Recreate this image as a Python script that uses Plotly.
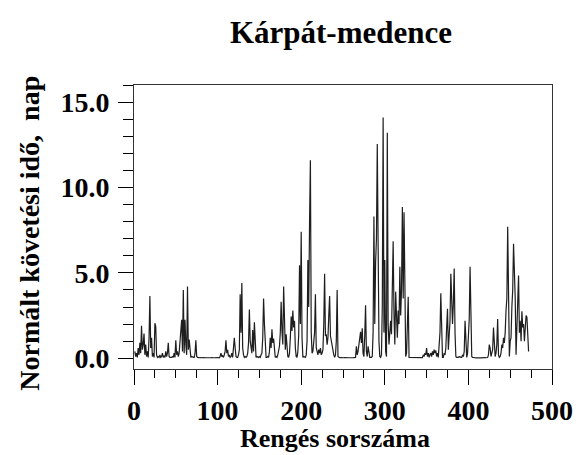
import plotly.graph_objects as go

# Normált követési idő (nap) for each earthquake index 1..472
seg1 = [0.4, 0.1, 0.3, 0.05, 0.6, 0.2, 0.9, 0.3, 1.9, 0.5, 0.8, 1.45, 0.2, 0.8, 0.1, 0.4, 0.05, 1.2, 3.65, 0.6,
        1.2, 0.1, 0.3, 0.05, 2.05, 1.85, 0.2, 0.05, 0.1, 0.05]
seg2 = [0.2, 0.05, 0.1, 0.3, 0.05, 0.15, 0.05, 0.4, 0.1, 0.3, 0.9, 0.1, 0.05, 0.05, 0.05, 0.1, 0.05, 0.3, 0.05, 1.05,
        0.2, 0.4, 0.1, 0.3, 1.0, 1.65, 2.25, 0.4, 4.0, 0.3, 2.25, 0.8, 0.2, 4.2, 0.5, 1.1, 0.2, 0.05, 0.1, 0.05,
        0.05, 0.05, 0.3, 1.05, 0.1]
seg3 = [0.05, 0.03, 0.03, 0.04, 0.02, 0.03, 0.04, 0.03, 0.02, 0.03, 0.04, 0.03, 0.03, 0.02, 0.04, 0.03, 0.03,
        0.04, 0.02, 0.03, 0.03, 0.04, 0.03, 0.02, 0.03, 0.04, 0.03]
seg4 = [0.1, 0.3, 0.1, 0.15, 0.05, 0.2, 0.4, 1.05, 0.3, 0.5, 0.1, 0.2, 0.05, 0.1, 0.3, 0.05, 0.5, 1.2, 0.6, 0.1,
        0.05, 0.05, 0.2, 0.5, 3.75, 1.5, 4.4, 0.6]
seg5 = [0.2, 0.05, 0.1, 0.05, 0.1, 0.3, 0.9, 2.85, 1.0, 0.7, 0.3, 1.65, 0.4, 2.1, 0.3, 0.05, 0.1, 0.05, 0.05, 0.1,
        0.05, 0.2, 0.3, 1.2, 3.5, 2.0, 0.3, 0.05, 0.05, 0.1]
seg6 = [0.05, 0.4, 1.2, 0.6, 1.7, 0.9, 1.15, 0.3, 0.05, 0.1, 0.05, 0.2, 0.4, 0.7, 1.5, 3.3, 1.6, 0.8, 4.2, 1.3,
        0.5, 1.4, 0.3, 0.1, 0.05, 0.3, 1.2, 2.45, 1.6, 2.8, 1.8, 2.2, 0.6, 0.1, 0.05, 0.4, 1.35, 5.45, 2.0, 7.4]
seg7 = [1.2, 0.05, 0.1, 0.05, 0.05, 0.2, 1.0, 5.75, 3.0, 8.0, 11.6, 1.5, 0.3, 0.4, 0.8, 1.5, 3.75, 0.6, 0.4, 0.2,
        0.5, 0.3, 0.6, 0.2, 0.3, 0.5, 2.0, 4.95, 1.3, 1.4, 0.8, 1.2, 2.5, 3.65, 1.3, 1.0, 0.6, 0.3, 0.2, 0.05,
        0.2, 1.0, 4.0, 0.1, 0.05]
seg8 = [0.03, 0.04, 0.03, 0.02, 0.03, 0.03, 0.04, 0.03, 0.02, 0.03, 0.04, 0.03, 0.03, 0.02, 0.04, 0.03, 0.03,
        0.04, 0.03, 0.05]
seg9 = [0.7, 0.2, 0.4, 0.8, 1.5, 1.55, 0.9, 1.75, 0.3, 0.1, 1.3, 3.1, 0.4, 0.1, 0.7, 0.2, 0.05, 0.05, 0.05, 0.1,
        1.5, 8.3, 2.0, 5.6, 7.0]
seg10 = [12.55, 3.0, 1.0, 0.1, 0.05, 0.2, 3.0, 14.1, 1.5, 5.75, 0.4, 0.1, 13.2, 2.0, 0.8, 1.5, 2.2, 1.4, 4.3, 6.85,
         2.5, 0.8, 3.9, 2.0, 1.2, 2.8, 2.0, 5.35, 2.5, 4.0, 8.85, 3.5, 8.55, 4.5, 0.1, 0.3, 1.5, 3.6, 0.05, 0.05]
seg11 = [0.03, 0.04, 0.03, 0.02, 0.03, 0.04, 0.03, 0.03, 0.02, 0.03, 0.04, 0.03, 0.02, 0.03, 0.04]
seg12 = [0.2, 0.1, 0.3, 0.2, 0.6, 0.1, 0.3, 0.05, 0.2, 0.3, 0.1, 0.4, 0.2, 0.5, 0.3, 0.45, 0.1, 0.3, 0.05, 0.6, 1.5]
seg13 = [3.8, 0.4, 0.05, 0.05, 0.3, 0.2, 0.6, 1.8, 2.9, 0.5, 1.6, 2.2, 4.95, 3.0, 2.0, 3.2, 5.25, 1.5, 0.1, 0.05,
         0.05, 0.05, 0.1, 0.05, 0.05, 0.05, 0.2, 0.1, 0.4, 2.2, 0.8, 0.05, 0.3, 1.0, 2.3, 5.35, 1.2, 0.1, 0.05]
seg14 = [0.03, 0.04, 0.03, 0.02, 0.03, 0.04, 0.03, 0.03, 0.02, 0.03, 0.04, 0.03, 0.02, 0.03, 0.04, 0.03, 0.03, 0.04]
seg15 = [0.2, 0.8, 0.6, 0.1, 0.3, 0.5, 1.8, 0.4, 0.1, 0.3, 0.8, 2.3, 0.2, 0.05, 0.1, 0.3, 0.8, 0.6, 1.2, 0.9,
         1.5, 2.8, 3.5, 7.7, 2.5, 0.1, 1.0, 1.2, 3.0, 4.0, 6.7, 5.35, 3.5, 0.2, 2.0, 3.5, 4.85, 1.5, 2.2, 1.0,
         2.75, 1.8, 2.0, 1.0, 2.2, 2.5, 2.4, 0.6, 0.4]

values = (seg1 + seg2 + seg3 + seg4 + seg5 + seg6 + seg7 + seg8 + seg9 + seg10 +
          seg11 + seg12 + seg13 + seg14 + seg15)
index = list(range(1, len(values) + 1))

x_ticks = [0, 100, 200, 300, 400, 500]
x_tick_labels = ["<b>0</b>", "<b>100</b>", "<b>200</b>", "<b>300</b>", "<b>400</b>", "<b>500</b>"]
y_ticks = [0, 5, 10, 15]
y_tick_labels = ["<b>0.0</b>", "<b>5.0</b>", "<b>10.0</b>", "<b>15.0</b>"]

title_text = "<b>Kárpát-medence</b>"
x_title = "<b>Rengés sorszáma</b>"
y_title = "<b>Normált követési idő,\u00a0 nap</b>"

serif = "Liberation Serif"

fig = go.Figure()
fig.add_trace(go.Scatter(x=index, y=values, mode="lines",
                         line=dict(color="#1e1e1e", width=1.2), showlegend=False))

tick_font = dict(family=serif, size=28, color="black")

fig.update_layout(
    width=585, height=455,
    margin=dict(l=134, r=22, t=85, b=86),
    paper_bgcolor="white", plot_bgcolor="white",
    font=dict(family=serif, color="black"),
    title=dict(text=title_text, x=341/585, xref="container", xanchor="center",
               y=1 - 32/455, yref="container", yanchor="middle",
               font=dict(family=serif, size=31, color="black")),
    annotations=[
        dict(text=x_title, xref="paper", yref="paper", x=(340 - 134)/429, y=(369 - 439)/284,
             xanchor="center", yanchor="middle", showarrow=False,
             font=dict(family=serif, size=26, color="black")),
        dict(text=y_title, xref="paper", yref="paper", x=(26 - 134)/429, y=(369 - 233)/284,
             xanchor="center", yanchor="middle", showarrow=False, textangle=-90,
             font=dict(family=serif, size=28, color="black")),
    ],
)

fig.update_xaxes(range=[0, 500], tickvals=x_ticks, ticktext=x_tick_labels,
                 ticks="outside", ticklen=15, tickwidth=1, tickcolor="black",
                 minor=dict(dtick=25, tick0=0, ticks="outside", ticklen=8, tickwidth=1, tickcolor="black"),
                 showline=True, linecolor="#333", linewidth=1, mirror=True,
                 showgrid=False, zeroline=False, ticklabelstandoff=1,
                 tickfont=tick_font)
fig.update_yaxes(range=[-0.63, 16], tickvals=y_ticks, ticktext=y_tick_labels,
                 ticks="outside", ticklen=15, tickwidth=1, tickcolor="black",
                 minor=dict(dtick=1, tick0=0, ticks="outside", ticklen=10, tickwidth=1, tickcolor="black"),
                 showline=True, linecolor="#333", linewidth=1, mirror=True,
                 showgrid=False, zeroline=False, ticklabelstandoff=3,
                 tickfont=tick_font)

fig.write_html("out.html")
